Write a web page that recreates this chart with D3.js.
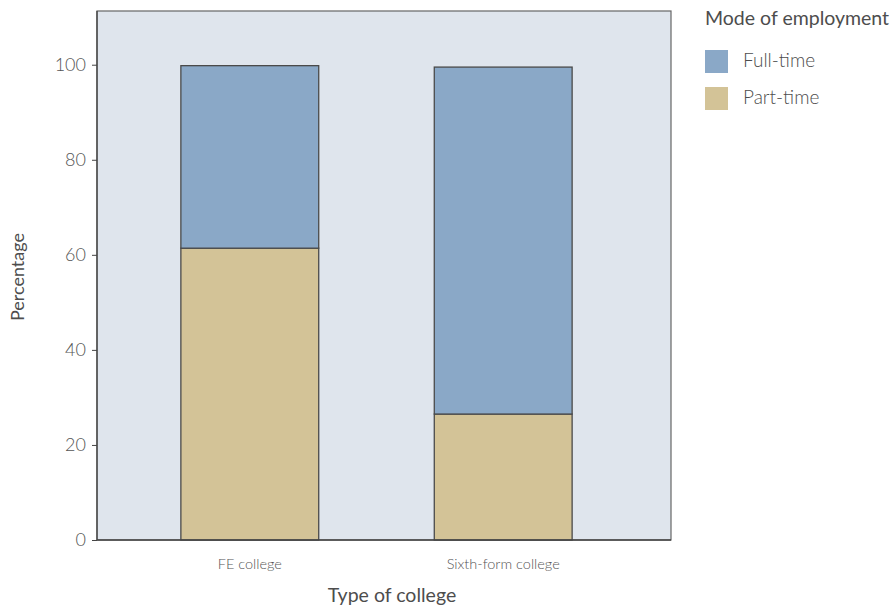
<!DOCTYPE html>
<html>
<head>
<meta charset="utf-8">
<script src="https://cdn.jsdelivr.net/npm/d3@7"></script>
<style>
  body { margin: 0; background: #fff; }
  svg text { font-family: "Lato", "Open Sans", sans-serif; fill: #4d4d4d; }
</style>
</head>
<body>
<svg id="chart" width="895" height="609"></svg>
<script>
const categories = ["FE college", "Sixth-form college"];
const partTime = [61.4, 26.5];
const fullTime = [38.4, 73.0];
const seriesNames = ["Full-time", "Part-time"];
const yTicks = [0, 20, 40, 60, 80, 100];

const colors = { "Full-time": "#8AA8C7", "Part-time": "#D3C397" };

const svg = d3.select("#chart");
const panel = { left: 97, right: 671, top: 11, bottom: 540 };

const x = d3.scaleBand().domain(categories).range([97, 656])
  .paddingInner(0.456).paddingOuter(0.331);
const y = d3.scaleLinear().domain([0, 111.3]).range([panel.bottom, panel.top]);

// panel
svg.append("rect")
  .attr("x", panel.left).attr("y", panel.top)
  .attr("width", panel.right - panel.left).attr("height", panel.bottom - panel.top)
  .attr("fill", "#DFE5ED").attr("stroke", "#666").attr("stroke-width", 1.2);

// stacked data
const rows = categories.map((c, i) => ({ cat: c, "Part-time": partTime[i], "Full-time": fullTime[i] }));
const stack = d3.stack().keys(["Part-time", "Full-time"])(rows);

svg.append("g").selectAll("g").data(stack).join("g")
  .attr("fill", d => colors[d.key])
  .selectAll("rect").data(d => d).join("rect")
  .attr("x", d => x(d.data.cat))
  .attr("width", x.bandwidth())
  .attr("y", d => y(d[1]))
  .attr("height", d => y(d[0]) - y(d[1]))
  .attr("stroke", "#4a4a4a").attr("stroke-width", 1.3);

// y axis
const yAxis = svg.append("g").attr("transform", `translate(${panel.left},0)`)
  .call(d3.axisLeft(y).tickValues(yTicks).tickSize(5).tickPadding(6));
yAxis.select(".domain").attr("d", `M0,${panel.bottom}V${panel.top}`).attr("stroke", "#444").attr("stroke-width", 1.3);
yAxis.selectAll(".tick line").attr("stroke", "#444");
yAxis.selectAll(".tick text").attr("font-size", 18).attr("font-weight", 300).style("fill", "#555");

// x axis
const xAxis = svg.append("g").attr("transform", `translate(0,${panel.bottom})`)
  .call(d3.axisBottom(x).tickSize(0).tickPadding(19));
xAxis.select(".domain").attr("d", `M${panel.left},0H${panel.right}`).attr("stroke", "#444").attr("stroke-width", 1.3);
xAxis.selectAll(".tick text").attr("font-size", 14.5).attr("font-weight", 300).style("fill", "#555");

// axis titles
svg.append("text").attr("x", 392).attr("y", 602).attr("text-anchor", "middle")
  .attr("font-size", 19.5).attr("font-weight", 400).text("Type of college");
svg.append("text").attr("transform", "translate(24,277) rotate(-90)").attr("text-anchor", "middle")
  .attr("font-size", 18).attr("font-weight", 400).text("Percentage");

// legend
const legend = svg.append("g").attr("transform", "translate(705,0)");
legend.append("text").attr("x", 0).attr("y", 25).attr("font-size", 19.5).attr("font-weight", 400)
  .text("Mode of employment");
const li = legend.selectAll("g.item").data(seriesNames).join("g").attr("class", "item")
  .attr("transform", (d, i) => `translate(0,${50 + i * 37})`);
li.append("rect").attr("width", 23).attr("height", 23).attr("fill", d => colors[d]);
li.append("text").attr("x", 38).attr("y", 17).attr("font-size", 19).attr("font-weight", 300).text(d => d);
</script>
</body>
</html>
